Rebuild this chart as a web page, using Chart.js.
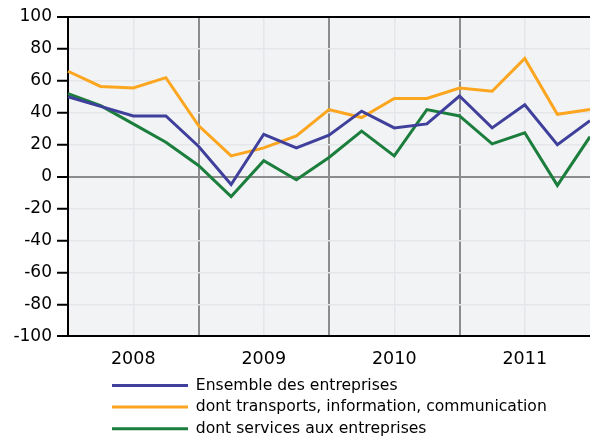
<!DOCTYPE html>
<html>
<head>
<meta charset="utf-8">
<script src="https://cdn.jsdelivr.net/npm/chart.js@4.4.1/dist/chart.umd.min.js"></script>
<style>
  html, body { margin: 0; padding: 0; background: #ffffff; }
</style>
</head>
<body>
<canvas id="chart-1" width="590" height="440"></canvas>
<script>
// Trimestres 2008T1 .. 2012T1
var quarters = ['2008T1', '2008T2', '2008T3', '2008T4',
                '2009T1', '2009T2', '2009T3', '2009T4',
                '2010T1', '2010T2', '2010T3', '2010T4',
                '2011T1', '2011T2', '2011T3', '2011T4',
                '2012T1'];

var ensemble = [50, 44, 38, 38, 19, -5, 26.5, 18, 26, 41, 30.5, 33, 50.5, 30.5, 45, 20, 35];
var transports = [66, 56.5, 55.5, 62, 32, 13, 18, 25.5, 42, 37, 49, 49, 55.5, 53.5, 74, 39, 42];
var services = [52, 44.5, 33, 21.5, 7, -12.5, 10, -2, 12, 28.5, 13, 42, 38, 20.5, 27.5, -5.5, 25];

var seriesNames = ['Ensemble des entreprises',
                   'dont transports, information, communication',
                   'dont services aux entreprises'];
var seriesColors = ['#3f3f9c', '#fca61f', '#1b7e3c'];

var yTicks = { min: -100, max: 100, step: 20 };

Chart.defaults.font.family = 'DejaVu Sans';
Chart.defaults.color = '#000000';

// fond gris clair de la zone de tracé
var plotBackground = {
    id: 'plotBackground',
    beforeDraw: function (chart) {
        var a = chart.chartArea;
        var ctx = chart.ctx;
        ctx.save();
        ctx.fillStyle = '#f2f3f5';
        ctx.fillRect(a.left, a.top, a.right - a.left, a.bottom - a.top);
        ctx.restore();
    }
};

// légende alignée sous le graphique, un peu décalée
var legendShift = {
    id: 'legendShift',
    afterLayout: function (chart) {
        var lg = chart.legend;
        lg.left += 106;
        lg.right += 106;
        lg.top += 6.5;
        lg.bottom += 6.5;
    }
};

function makeDataset(i, values) {
    return {
        label: seriesNames[i],
        data: values,
        borderColor: seriesColors[i],
        backgroundColor: seriesColors[i],
        borderWidth: 3,
        pointRadius: 0,
        tension: 0,
        fill: false
    };
}

var ctx = document.getElementById('chart-1').getContext('2d');
var chart = new Chart(ctx, {
    type: 'line',
    data: {
        labels: quarters,
        datasets: [
            makeDataset(0, ensemble),
            makeDataset(1, transports),
            makeDataset(2, services)
        ]
    },
    options: {
        responsive: false,
        animation: false,
        layout: { padding: { top: 17, right: 0, bottom: 0, left: 0 } },
        plugins: {
            tooltip: { enabled: false },
            legend: {
                position: 'bottom',
                align: 'start',
                labels: {
                    boxWidth: 76,
                    boxHeight: 3,
                    padding: 6,
                    color: '#000000',
                    font: { size: 15.6 },
                    generateLabels: function (chart) {
                        var items = Chart.defaults.plugins.legend.labels.generateLabels(chart);
                        items.forEach(function (it) { it.lineWidth = 0; });
                        return items;
                    }
                }
            }
        },
        scales: {
            x: {
                offset: false,
                afterFit: function (scale) { scale.height = 29; },
                border: { color: '#000000', width: 2 },
                grid: {
                    drawTicks: true,
                    tickLength: 13,
                    tickColor: 'rgba(0,0,0,0)',
                    lineWidth: function (c) { return c.index % 4 === 0 ? 2 : 1.5; },
                    color: function (c) {
                        if (c.index === 0 || c.index === quarters.length - 1) return 'rgba(0,0,0,0)';
                        if (c.index % 4 === 0) return '#8c8c8c';
                        if (c.index % 4 === 2) return '#e4e6e9';
                        return 'rgba(0,0,0,0)';
                    }
                },
                ticks: {
                    autoSkip: false,
                    maxRotation: 0,
                    padding: 0,
                    font: { size: 17.5 },
                    callback: function (value, index) {
                        return index % 4 === 2 ? quarters[index].slice(0, 4) : '';
                    }
                }
            },
            y: {
                min: yTicks.min,
                max: yTicks.max,
                afterFit: function (scale) { scale.width = 68; },
                border: { color: '#000000', width: 2 },
                grid: {
                    tickLength: 11,
                    tickColor: '#000000',
                    tickWidth: 2,
                    lineWidth: function (c) {
                        var v = c.tick.value;
                        return (v === 0 || v === yTicks.max || v === yTicks.min) ? 2 : 1.5;
                    },
                    color: function (c) {
                        var v = c.tick.value;
                        if (v === yTicks.max || v === yTicks.min) return '#000000';
                        if (v === 0) return '#8c8c8c';
                        return '#e4e6e9';
                    }
                },
                ticks: {
                    stepSize: yTicks.step,
                    padding: 5,
                    font: { size: 17 }
                }
            }
        }
    },
    plugins: [plotBackground, legendShift]
});
</script>
</body>
</html>
